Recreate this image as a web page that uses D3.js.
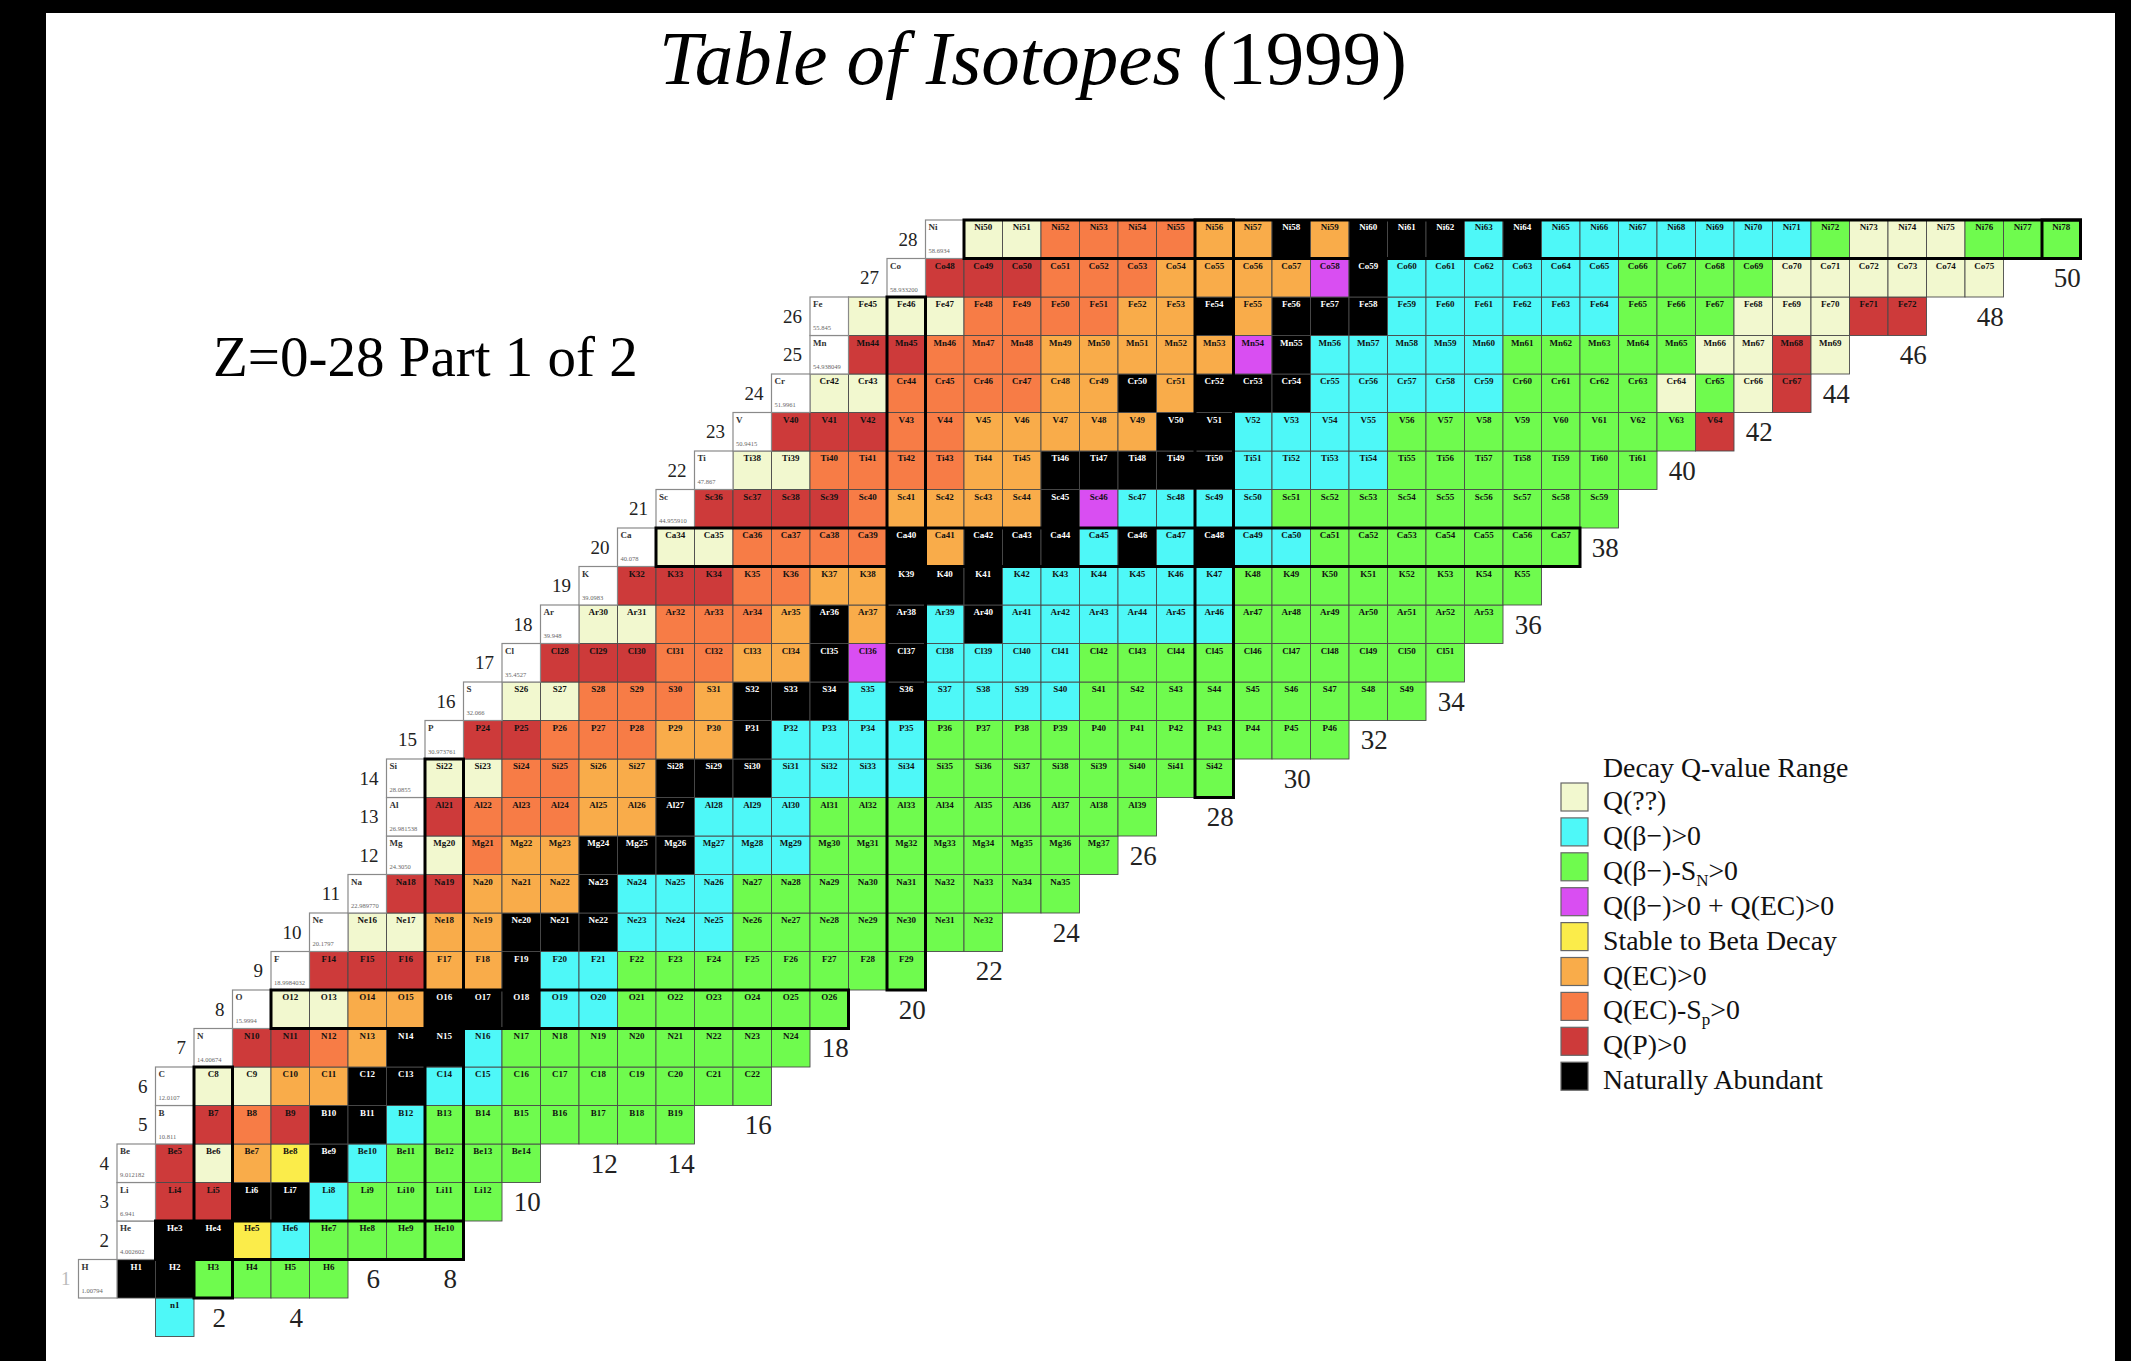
<!DOCTYPE html>
<html><head><meta charset="utf-8">
<script src="https://cdn.jsdelivr.net/npm/d3@7"></script>
<style>html,body{margin:0;padding:0;background:#fff;} svg{display:block}</style>
</head><body>
<svg id="chart" width="2131" height="1361"></svg>
<script>
// ---------------- DATA ----------------
const elements = ["n","H","He","Li","Be","B","C","N","O","F","Ne","Na","Mg","Al","Si","P","S","Cl","Ar","K","Ca","Sc","Ti","V","Cr","Mn","Fe","Co","Ni"];
const atomicWeights = ["","1.00794","4.002602","6.941","9.012182","10.811","12.0107","14.00674","15.9994","18.9984032","20.1797","22.989770","24.3050","26.981538","28.0855","30.973761","32.066","35.4527","39.948","39.0983","40.078","44.955910","47.867","50.9415","51.9961","54.938049","55.845","58.933200","58.6934"];
// first neutron number N of each element row (index = Z)
const rowStartN = [1,0,1,1,1,2,2,3,4,5,6,7,8,8,8,9,10,11,12,13,14,15,16,17,18,19,19,21,22];
// decay category of each isotope, left to right from rowStartN
// P=Q(??) C=Q(b-)>0 G=Q(b-)-Sn>0 M=Q(b-)>0+Q(EC)>0 Y=stable to beta E=Q(EC)-Sp>0 O=Q(EC)>0 R=Q(P)>0 K=naturally abundant
const rowCodes = [
  "C",
  "KKGGGG",
  "KKYCGGGG",
  "RRKKCGGGG",
  "RPOYKCGGGG",
  "RERKKCGGGGGGG",
  "PPOOKKCCGGGGGGG",
  "RREOKKCGGGGGGGG",
  "PPOOKKKCCGGGGGG",
  "RRROOKCCGGGGGGGG",
  "PPOOKKKCCCGGGGGGG",
  "RROOOKCCCGGGGGGGGG",
  "PEOOKKKCCCGGGGGGGG",
  "REEEOOKCCCGGGGGGGGG",
  "PPEEOOKKKCCCCGGGGGGGG",
  "RREEEOOKCCCCGGGGGGGGGGG",
  "PPEEEOKKKCKCCCCGGGGGGGGG",
  "RRREEOOKMKCCCCGGGGGGGGGG",
  "PPEEEOKOKCKCCCCCCGGGGGGG",
  "RRREEOOKKKCCCCCCGGGGGGGG",
  "PPEEEEKOKKKCKCKCCGGGGGGG",
  "RRRREOOOOKMCCCCGGGGGGGGG",
  "PPEEEEOOKKKKKCCCCGGGGGGG",
  "RRREEOOOOOKKCCCCGGGGGGGGR",
  "PPEEEEOOKOKKKCCCCCGGGGPGPR",
  "RREEEOOOOOMKCCCCCGGGGGPPRP",
  "PPPEEEEOOKOKKKCCCCCCGGGPPPRR",
  "RRREEEOOOOMKCCCCCCGGGGPPPPPP",
  "PPEEEEOOKOKKKCKCCCCCCCGPPPGGG"
];
const magicNumbers = [2, 8, 20, 28];
const magicColumns = [2, 8, 20, 28, 50];
const nLabels = [2,4,6,8,10,12,14,16,18,20,22,24,26,28,30,32,34,36,38,40,42,44,46,48,50];
const zLabels = [1,2,3,4,5,6,7,8,9,10,11,12,13,14,15,16,17,18,19,20,21,22,23,24,25,26,27,28];
const legendCodes = ["P","C","G","M","Y","O","E","R","K"];
const legendLabels = ["Q(??)","Q(β−)>0","Q(β−)-S{N}>0","Q(β−)>0 + Q(EC)>0","Stable to Beta Decay","Q(EC)>0","Q(EC)-S{p}>0","Q(P)>0","Naturally Abundant"];
const legendTitle = "Decay Q-value Range";
const titleItalic = "Table of Isotopes";
const titleRest = " (1999)";
const subtitle = "Z=0-28 Part 1 of 2";

// ---------------- STYLE / LAYOUT ----------------
const palette = ["#f2f8cf","#4ef8f8","#6ffb4e","#d94ef2","#fbec4a","#f9ac4a","#f77c46","#cd3a3a","#000000"];
const color = d3.scaleOrdinal().domain(legendCodes).range(palette);
const serif = "'Liberation Serif','Times New Roman',serif";

const svg = d3.select("#chart");
svg.append("rect").attr("x",0).attr("y",0).attr("width",2131).attr("height",1361).attr("fill","#fff");
// black frame as in the scanned original
svg.append("rect").attr("x",0).attr("y",0).attr("width",46).attr("height",1361).attr("fill","#000");
svg.append("rect").attr("x",0).attr("y",0).attr("width",2131).attr("height",13).attr("fill","#000");
svg.append("rect").attr("x",2115).attr("y",0).attr("width",16).attr("height",1361).attr("fill","#000");

const x = d3.scaleLinear().domain([0, 51]).range([117, 117 + 51 * 38.5]);
const y = d3.scaleLinear().domain([0, 29]).range([1336.5, 1336.5 - 29 * 38.5]); // y(Z) = bottom of row Z
const cw = x(1) - x(0), ch = y(0) - y(1);

// build cell table
const cells = [];
rowCodes.forEach((codes, Z) => {
  codes.split("").forEach((c, i) => {
    const N = rowStartN[Z] + i;
    cells.push({Z, N, code: c, name: elements[Z] + (Z + N)});
  });
});

const gCells = svg.append("g");
const cg = gCells.selectAll("g.cell").data(cells).join("g").attr("class","cell")
  .attr("transform", d => `translate(${x(d.N)},${y(d.Z + 1)})`);
cg.append("rect").attr("width", cw).attr("height", ch)
  .attr("fill", d => color(d.code)).attr("stroke", "#4a4a4a").attr("stroke-width", 0.9);
cg.append("text").attr("x", cw / 2).attr("y", 10).attr("text-anchor","middle")
  .attr("font-family", serif).attr("font-weight","bold").attr("font-size", 9)
  .attr("fill", d => d.code === "K" ? "#fff" : "#111").text(d => d.name);

// element label boxes
const labelRows = d3.range(1, rowCodes.length);
const lb = svg.append("g").selectAll("g").data(labelRows).join("g")
  .attr("transform", Z => `translate(${x(rowStartN[Z] - 1)},${y(Z + 1)})`);
lb.append("rect").attr("width", cw).attr("height", ch).attr("fill","#fff")
  .attr("stroke","#8a8a8a").attr("stroke-width",1.2);
lb.append("text").attr("x",3).attr("y",10).attr("font-family",serif).attr("font-weight","bold")
  .attr("font-size",9).attr("fill","#333").text(Z => elements[Z]);
lb.append("text").attr("x",3).attr("y",33).attr("font-family",serif)
  .attr("font-size",6.5).attr("fill","#666").text(Z => atomicWeights[Z]);

// magic-number outlines
const outl = svg.append("g").attr("fill","none").attr("stroke","#000").attr("stroke-width",3);
magicNumbers.forEach(Z => {
  const s = rowStartN[Z], n = rowCodes[Z].length;
  outl.append("rect").attr("x", x(s)).attr("y", y(Z + 1)).attr("width", x(s + n) - x(s)).attr("height", ch);
});
magicColumns.forEach(N => {
  const zs = cells.filter(c => c.N === N).map(c => c.Z);
  if (!zs.length) return;
  const z0 = d3.min(zs), z1 = d3.max(zs);
  outl.append("rect").attr("x", x(N)).attr("y", y(z1 + 1)).attr("width", cw).attr("height", y(z0) - y(z1 + 1));
});

// Z labels
svg.append("g").selectAll("text").data(zLabels).join("text")
  .attr("x", Z => x(rowStartN[Z] - 1) - 8).attr("y", Z => (y(Z) + y(Z + 1)) / 2)
  .attr("dy","0.35em").attr("text-anchor","end").attr("font-family",serif).attr("font-size",19)
  .attr("fill", Z => Z === 1 ? "#bbb" : "#222").text(Z => Z);

// N labels, under the lowest isotope of each column
svg.append("g").selectAll("text").data(nLabels).join("text")
  .attr("x", N => x(N) + cw / 2 + 6)
  .attr("y", N => { const zmin = d3.min(cells.filter(c => c.N === N), c => c.Z); return (y(zmin - 1) + y(zmin)) / 2; })
  .attr("dy","0.35em").attr("text-anchor","middle").attr("font-family",serif).attr("font-size",27)
  .attr("fill","#222").text(N => N);

// titles
const t = svg.append("text").attr("x",659).attr("y",84).attr("font-family",serif).attr("font-size",77).attr("fill","#000");
t.append("tspan").attr("font-style","italic").text(titleItalic);
t.append("tspan").text(titleRest);
svg.append("text").attr("x",213).attr("y",376).attr("font-family",serif).attr("font-size",57).attr("fill","#000").text(subtitle);

// legend
const lg = svg.append("g");
lg.append("text").attr("x",1603).attr("y",777).attr("font-family",serif).attr("font-size",27.8).attr("fill","#111").text(legendTitle);
const li = lg.selectAll("g.li").data(legendCodes).join("g").attr("class","li")
  .attr("transform", (d, i) => `translate(1561,${783 + i * 34.9})`);
li.append("rect").attr("width",27).attr("height",28).attr("fill", d => color(d)).attr("stroke","#666").attr("stroke-width",1.2);
li.each(function(d, i) {
  const txt = d3.select(this).append("text").attr("x",42).attr("y",27).attr("font-family",serif).attr("font-size",27.8).attr("fill","#111");
  const parts = legendLabels[i].split(/(\{[^}]*\})/).filter(p => p);
  let shiftBack = false;
  parts.forEach(p => {
    if (p[0] === "{") {
      txt.append("tspan").attr("font-size",17).attr("dy",6).text(p.slice(1,-1));
      shiftBack = true;
    } else {
      const ts = txt.append("tspan").text(p);
      if (shiftBack) { ts.attr("dy",-6); shiftBack = false; }
    }
  });
});
</script>
</body></html>
